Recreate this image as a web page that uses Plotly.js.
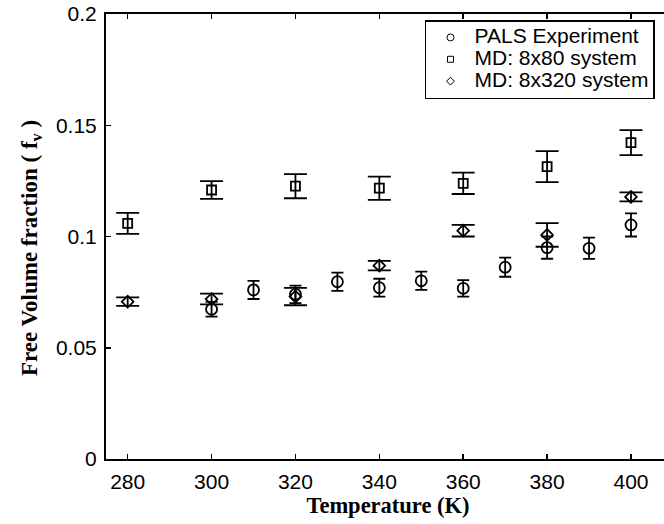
<!DOCTYPE html>
<html>
<head>
<meta charset="utf-8">
<script src="https://cdn.plot.ly/plotly-3.0.1.min.js"></script>
<style>
html,body{margin:0;padding:0;overflow:hidden;background:#fff;}
#chart{width:690px;height:524px;}
</style>
</head>
<body>
<div id="chart"></div>
<script>
// PALS Experiment (circles)
const palsT = [300, 310, 320, 330, 340, 350, 360, 370, 380, 390, 400];
const palsFv = [0.0673, 0.0760, 0.0740, 0.0797, 0.0770, 0.0801, 0.0767, 0.0862, 0.0950, 0.0947, 0.1052];
const palsErr = [0.0033, 0.0041, 0.0039, 0.0041, 0.0040, 0.0041, 0.0037, 0.0043, 0.0050, 0.0048, 0.0052];

// MD: 8x80 system (squares)
const md80T = [280, 300, 320, 340, 360, 380, 400];
const md80Fv = [0.1059, 0.1209, 0.1226, 0.1217, 0.1239, 0.1314, 0.1422];
const md80Err = [0.0047, 0.0040, 0.0054, 0.0052, 0.0048, 0.0070, 0.0056];

// MD: 8x320 system (diamonds)
const md320T = [280, 300, 320, 340, 360, 380, 400];
const md320Fv = [0.0707, 0.0719, 0.0730, 0.0869, 0.1026, 0.1007, 0.1178];
const md320Err = [0.0019, 0.0024, 0.0039, 0.0021, 0.0026, 0.0053, 0.0020];

const xTicks = [280, 300, 320, 340, 360, 380, 400];
const yTicks = [0, 0.05, 0.1, 0.15, 0.2];
const yTickText = ['0', '0.05', '0.1', '0.15', '0.2'];

const seriesNames = ['PALS Experiment', 'MD: 8x80 system', 'MD: 8x320 system'];

function dataTrace(x, y, err, symbol, size, capw) {
  return {
    x: x, y: y, type: 'scatter', mode: 'markers', showlegend: false,
    marker: {symbol: symbol, size: size, color: '#000', line: {color: '#000', width: 1.8}},
    error_y: {type: 'data', array: err, visible: true, color: '#000', thickness: 1.8, width: capw}
  };
}
function legendTrace(name, symbol, size) {
  return {
    x: [null], y: [null], type: 'scatter', mode: 'markers',
    name: '<span style="font-size:21px">' + name + '</span>', showlegend: true,
    marker: {symbol: symbol, size: size, color: '#000', line: {color: '#000', width: 1}}
  };
}

const traces = [
  dataTrace(md80T, md80Fv, md80Err, 'square-open', 9, 11.5),
  dataTrace(md320T, md320Fv, md320Err, 'diamond-open', 9, 11.5),
  dataTrace(palsT, palsFv, palsErr, 'circle-open', 11, 6),
  legendTrace(seriesNames[0], 'circle-open', 7),
  legendTrace(seriesNames[1], 'square-open', 6),
  legendTrace(seriesNames[2], 'diamond-open', 6)
];

const tickFont = {family: '"Liberation Sans", Arial, sans-serif', size: 21, color: '#000'};
const legendFont = {family: '"Liberation Sans", Arial, sans-serif', size: 14.5, color: '#000'};
const xTitleFont = {family: '"Liberation Serif", "Times New Roman", serif', size: 22.5, color: '#000', weight: 'bold'};
const yTitleFont = {family: '"Liberation Serif", "Times New Roman", serif', size: 23, color: '#000', weight: 'bold'};

const layout = {
  width: 690, height: 524,
  margin: {l: 106, r: 20, t: 14, b: 65},
  paper_bgcolor: '#fff', plot_bgcolor: '#fff',
  showlegend: true,
  legend: {
    x: 0.5656, y: 0.9865, xanchor: 'left', yanchor: 'top',
    bgcolor: '#fff', bordercolor: '#000', borderwidth: 1.5,
    font: legendFont, tracegroupgap: 0, itemwidth: 38
  },
  xaxis: {
    range: [274.83, 409.3], tickvals: xTicks, ticktext: xTicks.map(String),
    ticks: 'inside', ticklen: 5, tickwidth: 1.5, tickcolor: '#000',
    showline: true, linecolor: '#000', linewidth: 2, mirror: 'ticks',
    showgrid: false, zeroline: false, tickfont: tickFont, ticklabelstandoff: 3,
    title: {text: 'Temperature (K)', font: xTitleFont, standoff: 3}
  },
  yaxis: {
    range: [0, 0.2], tickvals: yTicks, ticktext: yTickText,
    ticks: 'inside', ticklen: 5, tickwidth: 1.5, tickcolor: '#000',
    showline: true, linecolor: '#000', linewidth: 2, mirror: 'ticks',
    showgrid: false, zeroline: false, tickfont: tickFont, ticklabelstandoff: 3,
    title: {text: 'Free Volume fraction ( f<sub>v</sub> )&nbsp;&nbsp;&nbsp;&nbsp;', font: yTitleFont, standoff: 12}
  }
};

Plotly.newPlot('chart', traces, layout, {displayModeBar: false, staticPlot: true});
</script>
</body>
</html>
